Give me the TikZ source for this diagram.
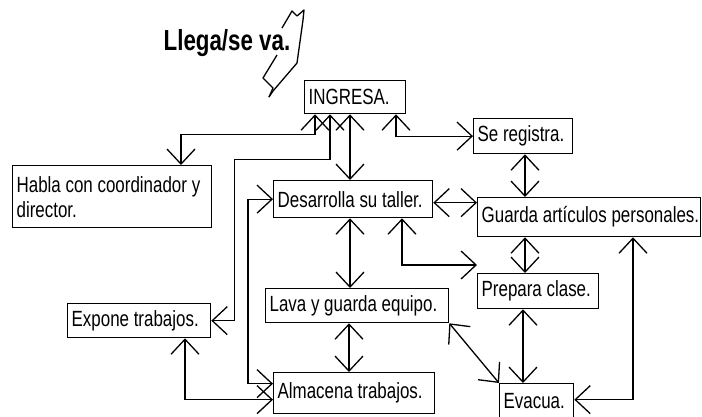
\documentclass[tikz,border=0pt]{standalone}
\usepackage{fontspec}
\usepackage{graphicx}
\setmainfont{Liberation Sans}
\newcommand\bt[2]{\makebox[#1][l]{\scalebox{0.77}[1]{#2}}}
\usetikzlibrary{arrows.meta,calc}
\begin{document}
\begin{tikzpicture}[x=1pt,y=-1pt,line width=1.3pt,
  box/.style={draw,line width=1.3pt,anchor=north west,inner xsep=4pt,inner ysep=0pt,
    align=left,font=\fontsize{22}{25}\selectfont},
  dbl/.style={{Straight Barb[length=15pt,width=28pt]}-{Straight Barb[length=15pt,width=28pt]}},
  zig/.style={line width=1.3pt,line join=round}]
\useasboundingbox (0,0) rectangle (702,416);
\clip (0,0) rectangle (702,416);
% title and zigzag
\node[anchor=base west,inner sep=0pt,font=\bfseries\fontsize{29}{30}\selectfont] (title) at (163,50) {\scalebox{0.77}[1]{Llega/se va.}};
\draw[zig] (282,28) -- (292,11) -- (297,16) -- (304,10) -- (303,20) -- (297,63) -- (273,91) -- (269,97);
\draw[zig] (277,55) -- (263,78) -- (273,88) -- (269,97);
% boxes
\node[box,minimum height=33pt] (ing) at (304,80) {\bt{93pt}{INGRESA.}};
\node[box,minimum height=35pt] (reg) at (473,118) {\bt{91pt}{Se registra.}};
\node[box,minimum height=62pt] (hab) at (12,165) {\bt{191pt}{Habla con coordinador y}\\\bt{191pt}{director.}};
\node[box,minimum height=37pt] (desa) at (273,180) {\bt{151pt}{Desarrolla su taller.}};
\node[box,minimum height=39pt] (gua) at (477,197) {\bt{215pt}{Guarda artículos personales.}};
\node[box,minimum height=35pt] (prep) at (477,273) {\bt{113pt}{Prepara clase.}};
\node[box,minimum height=34pt] (lava) at (265,288) {\bt{175pt}{Lava y guarda equipo.}};
\node[box,minimum height=34pt] (exp) at (67,303) {\bt{135pt}{Expone trabajos.}};
\node[box,minimum height=41pt] (alm) at (273,372) {\bt{153pt}{Almacena trabajos.}};
\node[box,minimum height=35pt] (eva) at (499,383) {\bt{66pt}{Evacua.}};
% connectors
\draw[dbl] ($(ing.south west)+(11,0)$) -- ++(0,20) -| ($(hab.north west)+(169,0)$);
\draw[dbl] ($(ing.south west)+(26,0)$) -- ++(0,45) -| ($(exp.east)+(23,0)$) -- (exp.east);
\draw[dbl] ($(ing.south west)+(46,0)$) -- ($(desa.north west)+(77,0)$);
\draw[dbl] ($(ing.south west)+(92,0)$) |- (reg.west);
\draw[dbl] (desa.west) -- ++(-25,0) |- ($(alm.west)+(0,-9.5)$);
\draw[dbl] ($(exp.south west)+(118,0)$) |- ($(alm.west)+(0,6.5)$);
\draw[dbl] ($(desa.south west)+(77,0)$) -- ($(lava.north west)+(85,0)$);
\draw[dbl] ($(lava.south west)+(84,0)$) -- ($(alm.north west)+(76,0)$);
\draw[dbl] ($(desa.east)+(0,3.5)$) -- ($(gua.west)+(0,-14.5)$);
\draw[dbl] ($(desa.south west)+(129,0)$) |- ($(prep.north west)+(0,-8)$);
\draw[dbl] ($(reg.south west)+(52,0)$) -- ($(gua.north west)+(48,0)$);
\draw[dbl] ($(gua.south west)+(48,0)$) -- ($(prep.north west)+(48,0)$);
\draw[dbl] ($(prep.south west)+(46,0)$) -- ($(eva.north west)+(24,0)$);
\draw[dbl] ($(gua.south west)+(156,0)$) |- ($(eva.east)+(0,-1.5)$);
\draw[dbl] (lava.south east) -- (eva.north west);
\end{tikzpicture}
\end{document}
